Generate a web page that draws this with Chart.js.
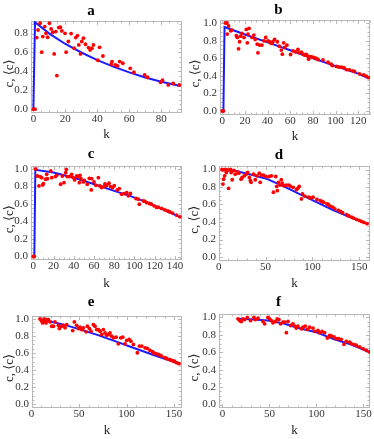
<!DOCTYPE html>
<html>
<head>
<meta charset="utf-8">
<script src="https://cdn.jsdelivr.net/npm/chart.js@4"></script>
<style>
  html, body { margin: 0; padding: 0; background: #fff; }
  #wrap { position: relative; width: 374px; height: 439px; overflow: hidden; }
  #wrap canvas { position: absolute; }
</style>
</head>
<body>
<div id="wrap"></div>
<script>
// ---- data ----
// tick labels
const xTicksA = [0, 20, 40, 60, 80];
const xTicksB = [0, 20, 40, 60, 80, 100, 120];
const xTicksC = [0, 20, 40, 60, 80, 100, 120, 140];
const xTicks50 = [0, 50, 100, 150];
const yTicksA = [0, 0.2, 0.4, 0.6, 0.8];
const yTicks = [0, 0.2, 0.4, 0.6, 0.8, 1.0];

// panel a
const aK = [0,1,2.1,2.9,4.2,5.2,5.9,7.1,7.9,8.9,10,11.1,12.1,13,14,14.7,15.9,16.9,17.8,19.8,20.5,21.9,23.6,25.5,26.5,27.6,28.4,29.5,30.3,31.3,32.6,34.5,35.5,36.6,37.6,40.3,41.4,43.5,48.7,49.2,51.3,52.7,54,56,60.6,62.9,69.6,71.4,79.6,80.8,84.4,87.5,91.3];
const aC = [0,0,0.758,0.838,0.909,0.603,0.768,0.874,0.803,0.761,0.909,0.849,0.814,0.585,0.821,0.356,0.863,0.867,0.828,0.803,0.603,0.716,0.80,0.645,0.758,0.779,0.68,0.585,0.716,0.751,0.687,0.652,0.627,0.645,0.68,0.518,0.655,0.563,0.476,0.504,0.468,0.458,0.504,0.486,0.433,0.391,0.363,0.338,0.285,0.307,0.257,0.272,0.257];
const aLineK = [0, 1, 10, 20, 30, 40, 50, 60, 70, 80, 92];
const aLineC = [0, 0.92, 0.80, 0.69, 0.60, 0.52, 0.45, 0.39, 0.335, 0.29, 0.245];

// panel b
const bK = [0,1,2.7,4.1,4.4,5.6,7.4,8.6,12.4,13.3,14.4,15.3,16.2,17.4,19.2,21.2,22.1,22.7,23.6,26.2,27.9,29.1,30.9,31.5,33,35,36.8,38.3,40.3,41.8,43.3,44.7,46.2,48.6,50.3,52.1,53,54.2,55.1,57.1,60.3,62.4,64.5,66.8,67.7,69.8,71.2,72.7,74.2,75.6,76.2,78,80.1,81.5,88.9,93.3,97.1,100.7,105.1,107.4,112.4,116.8,121.2,124.8,129.2,83,84.5,96.2,102.7,109.5,115.4,127.1];
const bC = [0,0,1.0,1.0,0.874,0.966,0.912,0.92,0.855,0.836,0.707,0.787,0.85,0.881,0.836,0.927,0.775,0.874,0.938,0.836,0.863,0.814,0.76,0.661,0.749,0.749,0.798,0.836,0.798,0.787,0.768,0.787,0.814,0.787,0.737,0.692,0.646,0.775,0.722,0.749,0.642,0.684,0.672,0.699,0.661,0.669,0.646,0.635,0.642,0.623,0.589,0.619,0.612,0.604,0.581,0.554,0.516,0.506,0.498,0.494,0.467,0.448,0.422,0.411,0.38,0.597,0.585,0.532,0.50,0.471,0.456,0.395];
const bLineK = [1, 2, 20, 40, 60, 80, 100, 120, 129];
const bLineC = [0, 0.955, 0.87, 0.78, 0.69, 0.60, 0.51, 0.425, 0.37];

// panel c
const cK = [0,1,2.3,4,5.6,6.6,8.3,9.3,9.9,12.2,13.2,13.9,17.2,18.2,21.8,23.1,27,28.7,30.3,32,32.6,33.6,35.6,37.9,39.5,40.9,42.9,44.5,45.5,46.1,47.1,49.4,53.4,55.4,57.3,57.7,60,61.9,64.3,65.9,67.5,69.8,72.5,74.8,76.4,78.4,83,85,87.3,89.9,92.3,93.9,101.5,103.8,104.8,108.8,112,114.7,119.3,121.9,126.8,130.1,137.7,141.7,145,50.5,70.8,80,96,110,116.5,123.5,133,135];
const cC = [0,0,1.0,0.92,0.807,0.913,0.901,0.818,0.833,0.883,0.939,0.89,0.977,0.901,0.913,0.928,0.826,0.92,0.844,0.958,0.996,0.913,0.913,0.939,0.901,0.875,0.92,0.913,0.844,0.928,0.89,0.852,0.826,0.894,0.761,0.89,0.852,0.814,0.901,0.807,0.788,0.799,0.814,0.837,0.799,0.788,0.761,0.776,0.712,0.719,0.731,0.693,0.663,0.655,0.598,0.636,0.617,0.606,0.579,0.561,0.549,0.534,0.496,0.473,0.454,0.87,0.83,0.81,0.72,0.63,0.60,0.565,0.52,0.51];
const cLineK = [1, 2, 20, 40, 62, 80, 96, 110, 128, 145];
const cLineC = [0, 0.99, 0.96, 0.90, 0.82, 0.75, 0.69, 0.63, 0.54, 0.45];

// panel d
const dK = [3.5,4.5,7,9.8,12.6,16.2,5.2,4.5,6.3,8.1,10.5,14.4,13.3,17.6,20.4,21.4,23.9,25,27.4,29.2,30.9,32.7,33.8,34.5,37.3,39,40.8,43.3,44.3,45.7,47.8,50.3,53.8,56.3,58.4,60.9,61.9,63.7,62.6,65.4,66.8,67.8,69.7,72.1,75,76.7,79.5,84.4,85.9,83,88.3,89.4,96.1,100.7,104.9,108.4,112,115.5,119,121.8,127.8,132.3,136.6,141.9,147.1,152.4,158.4,92,98,110,117,124,130,139,144,150,155];
const dC = [1.0,0.995,1.0,0.995,1.0,0.99,0.89,0.834,0.928,0.966,0.785,0.883,0.966,0.947,0.974,0.958,0.89,0.909,0.928,0.947,0.966,0.909,0.872,0.853,0.947,0.883,0.928,0.958,0.853,0.936,0.936,0.92,0.92,0.928,0.74,0.92,0.807,0.853,0.758,0.822,0.883,0.845,0.815,0.822,0.822,0.807,0.796,0.785,0.807,0.77,0.664,0.721,0.683,0.683,0.657,0.645,0.626,0.607,0.581,0.569,0.532,0.506,0.483,0.456,0.43,0.407,0.381,0.695,0.675,0.635,0.60,0.55,0.52,0.47,0.445,0.418,0.395];
const dLineK = [3.5, 17, 35, 52, 70, 87, 105, 122, 140, 158.4];
const dLineC = [0.995, 0.985, 0.94, 0.89, 0.805, 0.715, 0.625, 0.535, 0.455, 0.381];

// panel e
const eK = [8.9,10.7,11.8,13.2,14.2,15.9,17.7,15.3,19.5,21.2,23,24.7,28.3,29.3,31.8,33.5,35.3,37,43.3,45.1,47.5,49.3,51,52.8,54.6,57.4,58.8,60.9,62.6,65.1,66.8,68.6,70.4,72.1,73.9,75.6,77.4,79.1,80.9,82.6,84.4,86.1,89,91.4,93.9,96,98.4,100.2,102.8,104.6,107.2,111.4,113.5,116,119.5,121.9,124.7,127.5,131.1,133.5,137,140.5,145.1,149.3,152.8,155.3,128.5,135,142,147,150.5];
const eC = [1.0,0.973,0.953,1.0,0.973,0.992,0.992,0.953,0.965,0.914,0.914,0.965,0.925,0.887,0.914,0.925,0.895,0.934,0.863,0.965,0.925,0.887,0.902,0.875,0.895,0.848,0.914,0.887,0.856,0.934,0.914,0.875,0.875,0.856,0.817,0.875,0.836,0.809,0.817,0.836,0.797,0.778,0.786,0.708,0.778,0.786,0.708,0.747,0.759,0.739,0.70,0.603,0.681,0.681,0.661,0.653,0.63,0.615,0.591,0.584,0.564,0.545,0.525,0.506,0.486,0.475,0.60,0.575,0.535,0.515,0.5];
const eLineK = [8.5, 20, 35, 50, 70, 90, 110, 130, 155.3];
const eLineC = [0.99, 0.97, 0.93, 0.88, 0.81, 0.73, 0.65, 0.57, 0.475];

// panel f
const fK = [16.5,18.3,20,21.8,23.6,26.4,29.9,33.5,34.9,37.8,43.1,44.9,48.4,50.2,52,53.7,56.2,58.3,60.1,61.9,64.4,66.1,69.7,68,72.5,75,76.8,78.5,80.3,83.9,85.6,88.1,90.2,92.7,96.3,98,101.6,103.4,105.9,108.7,111.6,114,115.8,118.6,121.1,123.6,126.4,129.3,131.7,135.3,137,139.9,142.4,146,149.5,153,156.5];
const fC = [0.984,0.965,0.954,0.984,0.976,1.0,0.965,1.0,0.976,0.992,0.954,0.927,1.0,0.984,0.965,0.939,0.954,0.984,0.976,0.927,0.946,0.946,0.954,0.825,0.908,0.927,0.901,0.878,0.901,0.87,0.889,0.901,0.863,0.889,0.878,0.84,0.851,0.825,0.84,0.825,0.764,0.794,0.787,0.776,0.756,0.756,0.749,0.692,0.726,0.718,0.70,0.688,0.681,0.662,0.643,0.624,0.604];
const fLineK = [16.5, 30, 48, 65, 84, 100, 119, 137, 156.5];
const fLineC = [0.985, 0.98, 0.966, 0.93, 0.87, 0.83, 0.749, 0.688, 0.604];

// ---- layout: canvas box [left, top, w, h], plot area [l, t, r, b] inside it ----
const panels = [
  { name: 'a', k: aK, c: aC, lk: aLineK, lc: aLineC, xt: xTicksA, yt: yTicksA, xr: [-1.5, 93],    yr: [-0.04, 0.933], xSub: 4,
    box: [0, 0, 187, 145],     area: [31, 21, 182, 113],   titleMid: 11,  kMid: 135,   yMid: 10 },
  { name: 'b', k: bK, c: bC, lk: bLineK, lc: bLineC, xt: xTicksB, yt: yTicks,  xr: [-2, 130.4],   yr: [-0.04, 1.04],  xSub: 4,
    box: [187, 0, 187, 145],   area: [33, 19.5, 183, 114.5], titleMid: 10, kMid: 136.7, yMid: 9 },
  { name: 'c', k: cK, c: cC, lk: cLineK, lc: cLineC, xt: xTicksC, yt: yTicks,  xr: [-2.3, 147],   yr: [-0.04, 1.04],  xSub: 4,
    box: [0, 145, 187, 145],   area: [31, 20.5, 182, 115], titleMid: 9.5, kMid: 138.3, yMid: 10 },
  { name: 'd', k: dK, c: dC, lk: dLineK, lc: dLineC, xt: xTicks50, yt: yTicks, xr: [0.3, 161.5],  yr: [-0.04, 1.04],  xSub: 5,
    box: [187, 145, 187, 145], area: [32, 21, 184, 115.5], titleMid: 10, kMid: 139,   yMid: 8 },
  { name: 'e', k: eK, c: eC, lk: eLineK, lc: eLineC, xt: xTicks50, yt: yTicks, xr: [0.5, 158.4],  yr: [-0.04, 1.04],  xSub: 5,
    box: [0, 290, 187, 149],   area: [32, 25.5, 182, 117.5], titleMid: 12, kMid: 140.7, yMid: 10 },
  { name: 'f', k: fK, c: fC, lk: fLineK, lc: fLineC, xt: xTicks50, yt: yTicks, xr: [-3.7, 157],   yr: [-0.04, 1.04],  xSub: 5,
    box: [187, 290, 187, 149], area: [32, 24, 183, 118], titleMid: 11.7, kMid: 140.7, yMid: 8 }
];

const serif = "'Liberation Serif', 'DejaVu Serif', serif";
const frameColor = '#b8b8b8';

// Mathematica-style frame: box on all four sides with small inward ticks
const framePlugin = {
  id: 'frame',
  beforeDatasetsDraw(chart, args, opts) {
    const { ctx, chartArea: ca, scales: { x, y } } = chart;
    const L = Math.round(ca.left) + 0.5, R = Math.round(ca.right) - 0.5;
    const T = Math.round(ca.top) + 0.5, B = Math.round(ca.bottom) - 0.5;
    ctx.save();
    ctx.strokeStyle = frameColor;
    ctx.lineWidth = 1;
    ctx.strokeRect(L, T, R - L, B - T);

    const marks = (ticks, sub, scale) => {
      const step = ticks[1] - ticks[0];
      const out = [];
      for (let i = -sub; i <= (ticks.length) * sub; i++) {
        const v = ticks[0] + i * step / sub;
        if (v < scale.min || v > scale.max) continue;
        out.push({ v, major: i % sub === 0 });
      }
      return out;
    };
    ctx.beginPath();
    marks(opts.xt, opts.xSub, x).forEach(m => {
      const p = Math.round(x.getPixelForValue(m.v)) + 0.5;
      const len = m.major ? 3.5 : 2;
      ctx.moveTo(p, B); ctx.lineTo(p, B - len);
      ctx.moveTo(p, T); ctx.lineTo(p, T + len);
    });
    marks(opts.yt, 4, y).forEach(m => {
      const p = Math.round(y.getPixelForValue(m.v)) + 0.5;
      const len = m.major ? 3.5 : 2;
      ctx.moveTo(L, p); ctx.lineTo(L + len, p);
      ctx.moveTo(R, p); ctx.lineTo(R - len, p);
    });
    ctx.stroke();
    ctx.restore();
  }
};

const wrap = document.getElementById('wrap');

panels.forEach(p => {
  const [bx, by, W, H] = p.box;
  const [L, T, R, B] = p.area;
  const canvas = document.createElement('canvas');
  canvas.width = W;
  canvas.height = H;
  canvas.style.left = bx + 'px';
  canvas.style.top = by + 'px';
  canvas.style.width = W + 'px';
  canvas.style.height = H + 'px';
  wrap.appendChild(canvas);

  const dots = p.k.map((k, i) => ({ x: k, y: p.c[i] }));
  const curve = p.lk.map((k, i) => ({ x: k, y: p.lc[i] }));

  new Chart(canvas.getContext('2d'), {
    type: 'scatter',
    data: {
      datasets: [
        { data: dots, pointRadius: 1.9, pointBackgroundColor: '#ff0000', pointBorderWidth: 0, borderWidth: 0 },
        { data: curve, showLine: true, pointRadius: 0, borderColor: '#1a1aff', borderWidth: 2, fill: false }
      ]
    },
    options: {
      responsive: false,
      animation: false,
      events: [],
      layout: { padding: { left: 0, top: 0, right: W - R, bottom: 0 } },
      plugins: {
        legend: { display: false },
        tooltip: { enabled: false },
        title: {
          display: true,
          text: p.name,
          color: '#000',
          font: { family: serif, size: 15, weight: 'bold', lineHeight: 1.2 },
          padding: { top: p.titleMid - 9, bottom: T - p.titleMid - 9 }
        },
        frame: { xt: p.xt, yt: p.yt, xSub: p.xSub }
      },
      scales: {
        x: {
          type: 'linear',
          min: p.xr[0],
          max: p.xr[1],
          afterBuildTicks: s => { s.ticks = p.xt.map(v => ({ value: v })); },
          afterFit: s => { s.height = H - B; s.paddingLeft = 0; s.paddingRight = 0; },
          grid: { display: false, drawTicks: false },
          border: { display: false },
          ticks: {
            color: '#333', padding: 0, maxRotation: 0, autoSkip: false,
            font: { family: serif, size: 11 },
            callback: v => String(v)
          },
          title: {
            display: true, text: 'k', color: '#222',
            font: { family: serif, size: 13, lineHeight: 1.2 },
            padding: { top: 0, bottom: H - p.kMid - 7.8 }
          }
        },
        y: {
          type: 'linear',
          min: p.yr[0],
          max: p.yr[1],
          afterBuildTicks: s => { s.ticks = p.yt.map(v => ({ value: v })); },
          afterFit: s => { s.width = L; s.paddingTop = 0; s.paddingBottom = 0; },
          grid: { display: false, drawTicks: false },
          border: { display: false },
          ticks: {
            color: '#333', padding: 3, autoSkip: false,
            font: { family: serif, size: 11 },
            callback: v => v.toFixed(1)
          },
          title: {
            display: true,
            // trailing en spaces push the label a little below the centre, as in the original
            text: 'c, \u27E8c\u27E9\u2002\u2002',
            color: '#222',
            font: { family: serif, size: 13, lineHeight: 1.2 },
            padding: { top: p.yMid - 7.8, bottom: 0 }
          }
        }
      }
    },
    plugins: [framePlugin]
  });
});
</script>
</body>
</html>
